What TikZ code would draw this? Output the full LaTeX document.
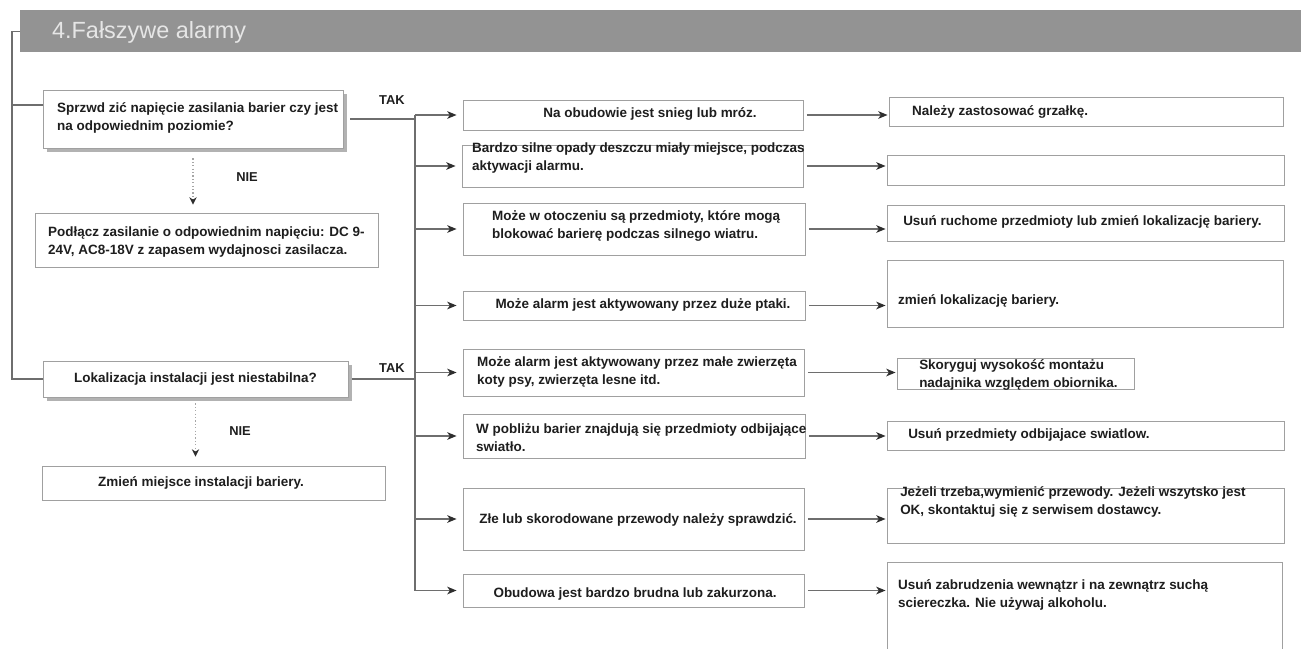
\documentclass[tikz,border=0pt]{standalone}
\usepackage{fontspec}
\setmainfont{Liberation Sans}
\usetikzlibrary{arrows.meta,shadows}

\definecolor{hdrgray}{HTML}{939393}
\definecolor{ttlgray}{HTML}{E6E6E6}
\definecolor{boxgray}{HTML}{A0A0A0}
\definecolor{lngray}{HTML}{6E6E6E}
\definecolor{tipgray}{HTML}{2E2E2E}
\definecolor{txtgray}{HTML}{1E1E1E}

\begin{document}
\begin{tikzpicture}[x=0.03cm,y=-0.03cm,font=\fontsize{11.5}{15.3}\selectfont\bfseries]
\tikzstyle{bx}=[draw=boxgray,line width=0.8pt,fill=white,inner sep=0pt,text=txtgray]
\tikzstyle{sh}=[drop shadow={shadow xshift=0.11cm,shadow yshift=-0.11cm,fill=black!30,opacity=1}]
\tikzstyle{tx}=[text=txtgray,align=left,inner sep=0pt]
\tikzstyle{ln}=[draw=lngray,line width=1pt]
\tikzstyle{arr}=[ln,-{Stealth[length=2.8mm,width=2.3mm,inset=0.8mm,color=tipgray]}]
\tikzstyle{nie}=[draw=black!35,line width=0.9pt,dotted,-{Stealth[length=2.2mm,width=2.2mm,color=tipgray]}]
\tikzstyle{lb}=[text=txtgray,font=\fontsize{11}{13}\selectfont\bfseries]
\useasboundingbox (0,0) rectangle (1301,648);

% header
\node[fill=hdrgray,minimum width=38.43cm,minimum height=1.26cm,inner sep=0pt,anchor=north west] (hdr) at (20,10) {};
\node[anchor=west,text=ttlgray,font=\fontsize{20}{24}\selectfont] (ttl) at (48,32) {4.Fałszywe alarmy};

% left column
\node[bx,sh,minimum width=9cm,minimum height=1.74cm] (q1) at (193,119) {};
\node[tx,anchor=west] (q1t) at (57,118) {Sprzwd zić napięcie zasilania barier czy jest\\na odpowiednim poziomie?};
\node[bx,minimum width=10.29cm,minimum height=1.62cm] (p1) at (206.5,240) {};
\node[tx,anchor=west] (p1t) at (48,242) {Podłącz zasilanie o odpowiednim napięciu: DC 9-\\24V, AC8-18V z zapasem wydajnosci zasilacza.};
\node[bx,sh,minimum width=9.15cm,minimum height=1.08cm] (q2) at (195.5,379) {Lokalizacja instalacji jest niestabilna?};
\node[bx,minimum width=10.29cm,minimum height=1.02cm] (z) at (213.5,483) {};
\node[tx] (zt) at (201,483) {Zmień miejsce instalacji bariery.};

\node[lb] (tak1) at (392,100) {TAK};
\node[lb] (tak2) at (392,368) {TAK};
\node[lb] (nie1) at (247,177) {NIE};
\node[lb] (nie2) at (240,431) {NIE};

\draw[ln] (hdr.west) -- ++(-8,0) coordinate (lt) |- (q2.west);
\coordinate (q1in) at (43,105);
\draw[ln] (lt|-q1in) -- (q1in);
\draw[nie,shorten <=0.3cm,shorten >=0.24cm] (q1.south) -- (q1.south|-p1.north);
\draw[nie,shorten <=0.18cm,shorten >=0.27cm] (q2.south) -- (q2.south|-z.north);

% middle column
\foreach \n/\x/\y/\w/\h in {m1/633/115/340/30,m2/632.5/166/341/42,m3/634/229/342/52,m4/634/305.5/342/29,m5/633.5/372.5/341/47,m6/634/436/342/44,m7/633.5/519/341/62,m8/633.5/590.5/341/33}
  \node[bx,minimum width=\w*0.03cm,minimum height=\h*0.03cm] (\n) at (\x,\y) {};
\node[tx] (m1t) at (650,114) {Na obudowie jest snieg lub mróz.};
\node[tx,anchor=west] (m2t) at (472,158) {Bardzo silne opady deszczu miały miejsce, podczas\\aktywacji alarmu.};
\node[tx,anchor=west] (m3t) at (492,226) {Może w otoczeniu są przedmioty, które mogą\\blokować barierę podczas silnego wiatru.};
\node[tx] (m4t) at (643,305) {Może alarm jest aktywowany przez duże ptaki.};
\node[tx,anchor=west] (m5t) at (477,372) {Może alarm jest aktywowany przez małe zwierzęta\\koty psy, zwierzęta lesne itd.};
\node[tx,anchor=west] (m6t) at (476,438) {W pobliżu barier znajdują się przedmioty odbijające\\swiatło.};
\node[tx] (m7t) at (638,520) {Złe lub skorodowane przewody należy sprawdzić.};
\node[tx] (m8t) at (635,594) {Obudowa jest bardzo brudna lub zakurzona.};

% right column
\foreach \n/\x/\y/\w/\h in {r1/1086/111.5/394/29,r2/1085.5/170/397/30,r3/1085.5/223/397/36,r4/1085/293.5/396/67,r5/1015.5/373.5/237/31,r6/1085.5/435.5/397/29,r7/1085.5/515.5/397/55,r8/1084.5/607/395/90}
  \node[bx,minimum width=\w*0.03cm,minimum height=\h*0.03cm] (\n) at (\x,\y) {};
\node[tx,anchor=west] (r1t) at (912,112) {Należy zastosować grzałkę.};
\node[tx,anchor=west] (r3t) at (903,222) {Usuń ruchome przedmioty lub zmień lokalizację bariery.};
\node[tx,anchor=west] (r4t) at (898,301) {zmień lokalizację bariery.};
\node[tx,anchor=west] (r5t) at (919,375) {Skoryguj wysokość montażu\\nadajnika względem obiornika.};
\node[tx,anchor=west] (r6t) at (908,435) {Usuń przedmiety odbijajace swiatlow.};
\node[tx,anchor=west] (r7t) at (900,502) {Jeżeli trzeba,wymienić przewody. Jeżeli wszytsko jest\\OK, skontaktuj się z serwisem dostawcy.};
\node[tx,anchor=west] (r8t) at (898,595) {Usuń zabrudzenia wewnątzr i na zewnątrz suchą\\sciereczka. Nie używaj alkoholu.};

% connectors
\coordinate (tk) at (415,300);
\draw[ln,shorten <=0.2cm] (q1.east) -- (tk|-q1.east);
\draw[ln,shorten <=0.1cm] (q2.east) -- (tk|-q2.east);
\draw[ln] (tk|-m1.west) -- (tk|-m8.west);
\foreach \i in {1,...,8} \draw[arr,shorten >=0.18cm] (tk|-m\i.west) -- (m\i.west);
\foreach \i in {1,...,8} \draw[arr,shorten <=0.1cm,shorten >=0.03cm] (m\i.east) -- (r\i.west|-m\i.east);
\end{tikzpicture}
\end{document}
